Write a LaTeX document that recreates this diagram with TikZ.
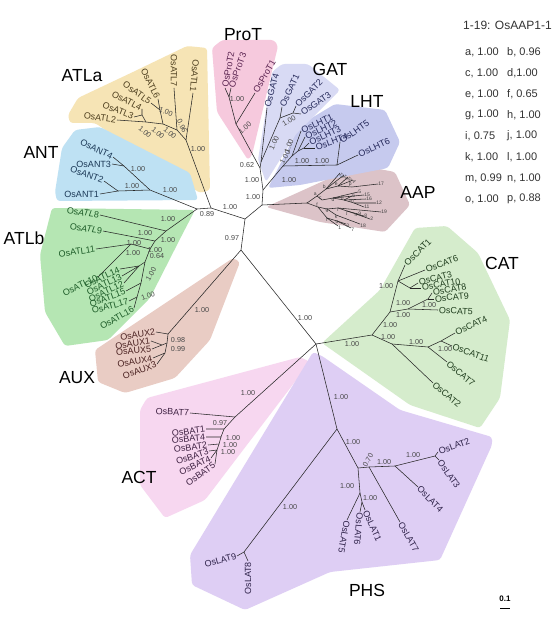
\documentclass[tikz,border=0pt]{standalone}
\usepackage{amsmath}
\usepackage{fontspec}
\setmainfont{Liberation Sans}
\usepackage{tikz}
\usetikzlibrary{positioning,calc}
\usetikzlibrary{backgrounds}
\tikzset{>=latex}
\usepackage{xcolor}

\definecolor{atlabg}{HTML}{F6E4B5}
\definecolor{antbg}{HTML}{BEE1F3}
\definecolor{atlbbg}{HTML}{B5E6B3}
\definecolor{auxbg}{HTML}{E9CCC4}
\definecolor{protbg}{HTML}{F6C9DD}
\definecolor{gatbg}{HTML}{D8DAF4}
\definecolor{lhtbg}{HTML}{C6CAEE}
\definecolor{aapbg}{HTML}{DCC3C8}
\definecolor{catbg}{HTML}{D5ECCC}
\definecolor{actbg}{HTML}{F7D7F0}
\definecolor{phsbg}{HTML}{DECEF4}
\definecolor{atlatx}{HTML}{4E3F1F}
\definecolor{anttx}{HTML}{1C3957}
\definecolor{atlbtx}{HTML}{1D5C28}
\definecolor{auxtx}{HTML}{4B2222}
\definecolor{prottx}{HTML}{5A2350}
\definecolor{gattx}{HTML}{282C5C}
\definecolor{lhttx}{HTML}{24285A}
\definecolor{cattx}{HTML}{213F1F}
\definecolor{acttx}{HTML}{3E2142}
\definecolor{phstx}{HTML}{2E2249}

\tikzset{
  br/.style={draw=black!85, line width=0.55pt},
  tip/.style={font=\fontsize{9}{9}\selectfont, inner sep=0.8pt},
  tipl/.style={tip, anchor=east},
  tipr/.style={tip, anchor=west},
  bsv/.style={font=\fontsize{7.2}{7.2}\selectfont, inner sep=0pt, text=black!72},
  clade/.style={font=\fontsize{17.5}{17.5}\selectfont, inner sep=0pt},
  aapt/.style={font=\fontsize{5}{5}\selectfont, inner sep=0.1pt, text=black!75},
  key/.style={font=\fontsize{11}{11}\selectfont, anchor=west, inner sep=0pt, text=black!80},
  zone/.style={rounded corners=3pt},
}

\begin{document}
\begin{tikzpicture}[x=1pt,y=-1pt]
\useasboundingbox (0,0) rectangle (553,620);
\fill[white] (0,0) rectangle (553,620);

% shaded clades
\fill[zone, atlabg] (68,115) -- (78,98) -- (133,72) -- (187,46) -- (207,48) -- (210,190) -- (200,193) -- (95,123) -- (70,123) -- cycle;
\fill[zone, antbg] (55,192) -- (62,148) -- (75,130) -- (100,127) -- (190,173) -- (198,200) -- (57,201) -- cycle;
\fill[zone, atlbbg] (52,208) -- (195,210) -- (182,235) -- (150,298) -- (108,340) -- (65,346) -- (45,312) -- (40,255) -- cycle;
\fill[zone, auxbg] (95,350) -- (233,258) -- (240,262) -- (210,340) -- (175,378) -- (125,393) -- (98,382) -- cycle;
\fill[zone, actbg] (147,398) -- (300,357) -- (310,362) -- (205,500) -- (165,518) -- (140,485) -- (140,410) -- cycle;
\fill[zone, phsbg] (313,352) -- (322,356) -- (400,410) -- (492,437) -- (492,445) -- (440,560) -- (330,572) -- (245,610) -- (192,585) -- (190,555) -- cycle;
\fill[zone, catbg] (322,343) -- (380,290) -- (415,228) -- (447,226) -- (478,253) -- (510,320) -- (500,398) -- (480,428) -- (410,405) -- cycle;
\fill[zone, aapbg] (266,207) -- (330,178) -- (368,167) -- (395,172) -- (410,205) -- (385,232) -- (320,222) -- cycle;
\fill[zone, lhtbg] (268,188) -- (300,125) -- (335,104) -- (385,110) -- (400,142) -- (388,168) -- (300,185) -- cycle;
\fill[zone, gatbg] (272,72) -- (282,64) -- (308,64) -- (340,90) -- (296,134) -- (266,182) -- (258,160) -- cycle;
\fill[zone, protbg] (212,48) -- (222,40) -- (274,40) -- (278,46) -- (252,155) -- (248,160) -- (217,112) -- cycle;

% backbone
\coordinate (n1) at (197,209);
\coordinate (n2) at (211,208);
\coordinate (j1) at (245,219);
\coordinate (j2) at (262,205);
\coordinate (j3) at (263,190);
\coordinate (j4) at (260,168);
\coordinate (j5) at (241,250);
\coordinate (m0) at (316,344);
\draw[br] (n1) -- (n2) -- (j1) -- (j2) -- (j3) -- (j4);
\draw[br] (j1) -- (j5) -- (m0);

% ATLa
\coordinate (a1) at (186,140);
\coordinate (a2) at (177,130);
\coordinate (a3) at (163,124);
\coordinate (a4) at (160,110);
\coordinate (a5) at (146,122);
\coordinate (a6) at (142,115);
\coordinate (atl1) at (193,93);
\coordinate (atl7) at (174,88);
\coordinate (atl6) at (158,99);
\coordinate (atl5) at (151,103);
\coordinate (atl4) at (142,109);
\coordinate (atl3) at (134,117);
\coordinate (atl2) at (117,120);
\draw[br] (n2) -- (a1) -- (atl1);
\draw[br] (a1) -- (a2) -- (atl7);
\draw[br] (a2) -- (a3) -- (a4) -- (atl6);
\draw[br] (a4) -- (atl5);
\draw[br] (a3) -- (a5) -- (atl2);
\draw[br] (a5) -- (a6) -- (atl4);
\draw[br] (a6) -- (atl3);
\node[tipl, text=atlatx, rotate=-95] (latl1) at (atl1) {OsATL1};
\node[tipl, text=atlatx, rotate=-90] (latl7) at (atl7) {OsATL7};
\node[tipl, text=atlatx, rotate=-64] (latl6) at (atl6) {OsATL6};
\node[tipl, text=atlatx, rotate=-36] (latl5) at (atl5) {OsATL5};
\node[tipl, text=atlatx, rotate=-28] (latl4) at (atl4) {OsATL4};
\node[tipl, text=atlatx, rotate=-22] (latl3) at (atl3) {OsATL3};
\node[tipl, text=atlatx, rotate=-8] (latl2) at (atl2) {OsATL2};

% ANT
\coordinate (b1) at (150,190);
\coordinate (b2) at (118,191);
\coordinate (b3) at (124,166);
\coordinate (ant1) at (100,194);
\coordinate (ant2) at (104,181);
\coordinate (ant3) at (112,164);
\coordinate (ant4) at (113,157);
\draw[br] (n1) -- (b1) -- (b2) -- (ant1);
\draw[br] (b2) -- (ant2);
\draw[br] (b1) -- (b3) -- (ant3);
\draw[br] (b3) -- (ant4);
\node[tipl, text=anttx] (lant1) at (ant1) {OsANT1};
\node[tipl, text=anttx, rotate=-20] (lant2) at (ant2) {OsANT2};
\node[tipl, text=anttx] (lant3) at (ant3) {OsANT3};
\node[tipl, text=anttx, rotate=-25] (lant4) at (ant4) {OsANT4};

% ATLb
\coordinate (c1) at (166,231);
\coordinate (c2) at (155,241);
\coordinate (c3) at (150,249);
\coordinate (c4) at (131,244);
\coordinate (c5) at (145,262);
\coordinate (c6) at (139,266);
\coordinate (c7) at (141,283);
\coordinate (c8) at (137,297);
\coordinate (atl8) at (100,215);
\coordinate (atl9) at (103,231);
\coordinate (atl11) at (96,249);
\coordinate (atl10) at (98,277);
\coordinate (atl14) at (120,269);
\coordinate (atl13) at (122,276);
\coordinate (atl12) at (124,283);
\coordinate (atl15) at (126,291);
\coordinate (atl17) at (129,301);
\coordinate (atl16) at (134,308);
\draw[br] (n1) -- (c1) -- (atl8);
\draw[br] (c1) -- (c2) -- (atl9);
\draw[br] (c2) -- (c3) -- (c4) -- (atl11);
\draw[br] (c4) -- (atl10);
\draw[br] (c3) -- (c5) -- (c6) -- (atl14);
\draw[br] (c6) -- (atl13);
\draw[br] (c6) -- (atl12);
\draw[br] (c5) -- (c7) -- (atl15);
\draw[br] (c7) -- (c8) -- (atl17);
\draw[br] (c8) -- (atl16);
\node[tipl, text=atlbtx, rotate=-8] (latl8) at (atl8) {Os\textit{ATL}8};
\node[tipl, text=atlbtx, rotate=-8] (latl9) at (atl9) {Os\textit{ATL}9};
\node[tipl, text=atlbtx, rotate=8] (latl11) at (atl11) {OsATL11};
\node[tipl, text=atlbtx, rotate=25] (latl10) at (atl10) {OsATL10};
\node[tipl, text=atlbtx, rotate=25] (latl14) at (atl14) {OsATL14};
\node[tipl, text=atlbtx, rotate=25] (latl13) at (atl13) {OsATL13};
\node[tipl, text=atlbtx, rotate=25] (latl12) at (atl12) {OsATL12};
\node[tipl, text=atlbtx, rotate=20] (latl15) at (atl15) {OsATL15};
\node[tipl, text=atlbtx, rotate=15] (latl17) at (atl17) {OsATL17};
\node[tipl, text=atlbtx, rotate=30] (latl16) at (atl16) {OsATL16};

% AUX
\coordinate (d1) at (168,334);
\coordinate (d2) at (167,343);
\coordinate (d3) at (162,345);
\coordinate (d4) at (165,353);
\coordinate (aux2) at (156,332);
\coordinate (aux1) at (151,341);
\coordinate (aux5) at (152,349);
\coordinate (aux4) at (153,358);
\coordinate (aux3) at (157,364);
\draw[br] (j5) -- (d1) -- (aux2);
\draw[br] (d1) -- (d2) -- (d3) -- (aux1);
\draw[br] (d3) -- (aux5);
\draw[br] (d2) -- (d4) -- (aux4);
\draw[br] (d4) -- (aux3);
\node[tipl, text=auxtx, rotate=8] (laux2) at (aux2) {OsAUX2};
\node[tipl, text=auxtx, rotate=8] (laux1) at (aux1) {OsAUX1};
\node[tipl, text=auxtx, rotate=5] (laux5) at (aux5) {OsAUX5};
\node[tipl, text=auxtx, rotate=10] (laux4) at (aux4) {OsAUX4};
\node[tipl, text=auxtx, rotate=20] (laux3) at (aux3) {OsAUX3};

% ACT
\coordinate (e1) at (235,417);
\coordinate (e2) at (224,429);
\coordinate (e3) at (221,437);
\coordinate (e4) at (219,444);
\coordinate (e5) at (217,450);
\coordinate (bat7) at (190,413);
\coordinate (bat1) at (206,429);
\coordinate (bat4) at (206,437);
\coordinate (bat2) at (208,445);
\coordinate (bat3) at (209,451);
\coordinate (bat4b) at (211,458);
\coordinate (bat5) at (215,464);
\draw[br] (m0) -- (e1) -- (bat7);
\draw[br] (e1) -- (e2) -- (bat1);
\draw[br] (e2) -- (e3) -- (bat4);
\draw[br] (e3) -- (e4) -- (bat2);
\draw[br] (e4) -- (e5) -- (bat3);
\draw[br] (e5) -- (bat4b);
\draw[br] (e5) -- (bat5);
\node[tipl, text=acttx, rotate=-3] (lbat7) at (bat7) {OsBAT7};
\node[tipl, text=acttx, rotate=8] (lbat1) at (bat1) {OsBAT1};
\node[tipl, text=acttx, rotate=5] (lbat4) at (bat4) {OsBAT4};
\node[tipl, text=acttx, rotate=8] (lbat2) at (bat2) {OsBAT2};
\node[tipl, text=acttx, rotate=18] (lbat3) at (bat3) {OsBAT3};
\node[tipl, text=acttx, rotate=25] (lbat4b) at (bat4b) {OsBAT4};
\node[tipl, text=acttx, rotate=35] (lbat5) at (bat5) {OsBAT5};

% PHS
\coordinate (p1) at (337,429);
\coordinate (p2) at (358,468);
\coordinate (p3) at (244,552);
\coordinate (q1) at (360,493);
\coordinate (q2) at (369,467);
\coordinate (q3) at (395,466);
\coordinate (q4) at (435,456);
\coordinate (q5) at (362,502);
\coordinate (lat9) at (237,556);
\coordinate (lat8) at (248,561);
\coordinate (lat7) at (400,522);
\coordinate (lat4) at (418,487);
\coordinate (lat2) at (438,452);
\coordinate (lat3) at (439,460);
\coordinate (lat5) at (347,520);
\coordinate (lat6) at (360,512);
\coordinate (lat1) at (365,510);
\draw[br] (m0) -- (p1) -- (p3) -- (lat9);
\draw[br] (p3) -- (lat8);
\draw[br] (p1) -- (p2) -- (q1) -- (lat5);
\draw[br] (q1) -- (q5) -- (lat6);
\draw[br] (q5) -- (lat1);
\draw[br] (p2) -- (q2) -- (lat7);
\draw[br] (q2) -- (q3) -- (lat4);
\draw[br] (q3) -- (q4) -- (lat2);
\draw[br] (q4) -- (lat3);
\node[tipl, text=phstx, rotate=15] (llat9) at (lat9) {OsLAT9};
\node[tipl, text=phstx, rotate=90] (llat8) at (lat8) {OsLAT8};
\node[tipr, text=phstx, rotate=20] (llat2) at (lat2) {OsLAT2};
\node[tipr, text=phstx, rotate=-55] (llat3) at (lat3) {OsLAT3};
\node[tipr, text=phstx, rotate=-45] (llat4) at (lat4) {OsLAT4};
\node[tipr, text=phstx, rotate=-60] (llat7) at (lat7) {OsLAT7};
\node[tipr, text=phstx, rotate=-65] (llat1) at (lat1) {OsLAT1};
\node[tipr, text=phstx, rotate=-95] (llat6) at (lat6) {OsLAT6};
\node[tipr, text=phstx, rotate=-100] (llat5) at (lat5) {OsLAT5};

% CAT
\coordinate (k1) at (372,335);
\coordinate (k2) at (390,312);
\coordinate (k3) at (392,344);
\coordinate (k4) at (428,347);
\coordinate (k5) at (441,341);
\coordinate (k6) at (398,281);
\coordinate (k7) at (408,309);
\coordinate (k8) at (428,299);
\coordinate (k9) at (410,288);
\coordinate (cat1) at (405,265);
\coordinate (cat6) at (425,270);
\coordinate (cat3) at (418,283);
\coordinate (cat10) at (421,288);
\coordinate (cat8) at (432,293);
\coordinate (cat9) at (434,299);
\coordinate (cat5) at (438,310);
\coordinate (cat4) at (455,333);
\coordinate (cat11) at (452,346);
\coordinate (cat7) at (447,362);
\coordinate (cat2) at (433,383);
\draw[br] (m0) -- (k1) -- (k2);
\draw[br] (k1) -- (k3) -- (cat2);
\draw[br] (k3) -- (k4) -- (k5) -- (cat4);
\draw[br] (k5) -- (cat11);
\draw[br] (k4) -- (cat7);
\draw[br] (k2) -- (k6) -- (cat1);
\draw[br] (k6) -- (cat6);
\draw[br] (k6) -- (k9) -- (cat3);
\draw[br] (k9) -- (cat10);
\draw[br] (k2) -- (k7) -- (cat5);
\draw[br] (k7) -- (k8) -- (cat8);
\draw[br] (k8) -- (cat9);
\node[tipr, text=cattx, rotate=45] (lcat1) at (cat1) {OsCAT1};
\node[tipr, text=cattx, rotate=20] (lcat6) at (cat6) {OsCAT6};
\node[tipr, text=cattx, rotate=15] (lcat3) at (cat3) {OsCAT3};
\node[tipr, text=cattx, rotate=10] (lcat10) at (cat10) {OsCAT10};
\node[tipr, text=cattx, rotate=10] (lcat8) at (cat8) {OsCAT8};
\node[tipr, text=cattx, rotate=5] (lcat9) at (cat9) {OsCAT9};
\node[tipr, text=cattx, rotate=-3] (lcat5) at (cat5) {OsCAT5};
\node[tipr, text=cattx, rotate=25] (lcat4) at (cat4) {OsCAT4};
\node[tipr, text=cattx, rotate=-20] (lcat11) at (cat11) {OsCAT11};
\node[tipr, text=cattx, rotate=-40] (lcat7) at (cat7) {OsCAT7};
\node[tipr, text=cattx, rotate=-40] (lcat2) at (cat2) {OsCAT2};

% LHT
\coordinate (l1) at (283,166);
\coordinate (l2) at (337,165);
\coordinate (l3) at (292,156);
\coordinate (l4) at (298,151);
\coordinate (l5) at (304,148);
\coordinate (lht1) at (301,131);
\coordinate (lht2) at (305,137);
\coordinate (lht3) at (309,143);
\coordinate (lht4) at (315,148);
\coordinate (lht5) at (340,142);
\coordinate (lht6) at (358,155);
\draw[br] (j3) -- (l1) -- (l2) -- (lht5);
\draw[br] (l2) -- (lht6);
\draw[br] (l1) -- (l3) -- (lht1);
\draw[br] (l3) -- (l4) -- (lht2);
\draw[br] (l4) -- (l5) -- (lht3);
\draw[br] (l5) -- (lht4);
\node[tipr, text=lhttx, rotate=25] (llht1) at (lht1) {OsLHT1};
\node[tipr, text=lhttx, rotate=25] (llht2) at (lht2) {OsLHT2};
\node[tipr, text=lhttx, rotate=25] (llht3) at (lht3) {OsLHT3};
\node[tipr, text=lhttx, rotate=20] (llht4) at (lht4) {OsLHT4};
\node[tipr, text=lhttx, rotate=35] (llht5) at (lht5) {OsLHT5};
\node[tipr, text=lhttx, rotate=25] (llht6) at (lht6) {OsLHT6};

% GAT
\coordinate (g1) at (261,162);
\coordinate (g2) at (280,118);
\coordinate (g3) at (293,113);
\coordinate (gat4) at (267,108);
\coordinate (gat1) at (282,107);
\coordinate (gat2) at (296,106);
\coordinate (gat3) at (301,114);
\draw[br] (j4) -- (g1) -- (gat4);
\draw[br] (g1) -- (g2) -- (gat1);
\draw[br] (g2) -- (g3) -- (gat2);
\draw[br] (g3) -- (gat3);
\node[tipr, text=gattx, rotate=75] (lgat4) at (gat4) {OsGAT4};
\node[tipr, text=gattx, rotate=65] (lgat1) at (gat1) {OsGAT1};
\node[tipr, text=gattx, rotate=45] (lgat2) at (gat2) {OsGAT2};
\node[tipr, text=gattx, rotate=35] (lgat3) at (gat3) {OsGAT3};

% ProT
\coordinate (r1) at (236,124);
\coordinate (r2) at (229,97);
\coordinate (prot1) at (255,93);
\coordinate (prot2) at (225,88);
\coordinate (prot3) at (231,88);
\draw[br] (j4) -- (r1) -- (prot1);
\draw[br] (r1) -- (r2) -- (prot2);
\draw[br] (r2) -- (prot3);
\node[tipr, text=prottx, rotate=80] (lprot2) at (prot2) {OsProT2};
\node[tipr, text=prottx, rotate=70] (lprot3) at (prot3) {OsProT3};
\node[tipr, text=prottx, rotate=60] (lprot1) at (prot1) {OsProT1};

% AAP
\coordinate (s0) at (307,203);
\coordinate (sa) at (317,196);
\coordinate (sb) at (326,189);
\coordinate (se) at (338,186);
\coordinate (sp) at (352,187);
\coordinate (sc) at (322,200);
\coordinate (sd) at (333,198);
\coordinate (sh) at (344,200);
\coordinate (sm) at (354,203);
\coordinate (sf) at (318,207);
\coordinate (sg) at (327,209);
\coordinate (si) at (338,208);
\coordinate (sj) at (347,211);
\coordinate (sn) at (356,214);
\coordinate (sk) at (336,215);
\coordinate (sl) at (327,218);
\coordinate (so) at (337,221);
\coordinate (t13) at (340,173);
\coordinate (t14) at (344,175);
\coordinate (t10) at (348,177);
\coordinate (t4) at (353,180);
\coordinate (t17) at (378,184);
\coordinate (t5) at (358,192);
\coordinate (t15) at (364,195);
\coordinate (t6) at (352,196);
\coordinate (t16) at (366,199);
\coordinate (t12) at (376,203);
\coordinate (t11) at (364,207);
\coordinate (t19) at (381,212);
\coordinate (t9) at (358,214);
\coordinate (t8) at (364,216);
\coordinate (t2) at (370,219);
\coordinate (t18) at (360,224);
\coordinate (t1) at (338,226);
\coordinate (t3) at (346,224);
\coordinate (t7) at (351,228);
\draw[br] (j2) -- (s0) -- (sa) -- (sb) -- (t13);
\draw[br] (sb) -- (t14);
\draw[br] (sb) -- (se) -- (t10);
\draw[br] (se) -- (t4);
\draw[br] (se) -- (sp) -- (t17);
\draw[br] (sa) -- (sc) -- (sd) -- (t5);
\draw[br] (sd) -- (t15);
\draw[br] (sd) -- (sh) -- (t6);
\draw[br] (sh) -- (t16);
\draw[br] (sh) -- (sm) -- (t12);
\draw[br] (sm) -- (t11);
\draw[br] (s0) -- (sf) -- (sg) -- (si) -- (t19);
\draw[br] (si) -- (sj) -- (t9);
\draw[br] (sj) -- (sn) -- (t8);
\draw[br] (sn) -- (t2);
\draw[br] (sg) -- (sk) -- (t18);
\draw[br] (sf) -- (sl) -- (t1);
\draw[br] (sl) -- (so) -- (t3);
\draw[br] (so) -- (t7);
\foreach \t/\r in {13/-55,14/-55,10/-55,4/-55}
  \node[aapt, anchor=west, rotate=\r] (nt\t) at (t\t) {\t};
\foreach \t in {17,5,15,6,16,12,11,19,9,8,2}
  \node[aapt, anchor=west] (nt\t) at (t\t) {\t};
\foreach \t in {18,1,3,7}
  \node[aapt, anchor=north west] (nt\t) at (t\t) {\t};
\foreach \s in {a,b,c,e,p,f,h,m}
  \node[aapt, anchor=south east] (ns\s) at (s\s) {\s};
\foreach \s in {d,g,i,j,k,l,n,o}
  \node[aapt, anchor=north] (ns\s) at (s\s) {\s};

% support values
\foreach \x/\y/\r/\v [count=\i] in {
  207/214/0/0.89, 230/207/0/1.00, 232/238/0/0.97, 305/318/0/1.00,
  247/165/0/0.62, 252/180/0/1.00, 253/197/0/1.00,
  198/149/0/1.00, 166/112/-20/1.00, 182/126/-65/0.96, 145/132/-40/1.00, 158/133/-40/1.00, 170/133/-40/1.00,
  132/186/0/1.00, 138/169/0/1.00, 170/190/0/1.00,
  168/219/0/1.00, 145/233/0/1.00, 168/240/0/1.00, 134/243/0/1.00, 133/253/0/1.00, 155/250/0/1.00, 157/256/0/0.64, 151/274/60/1.00, 148/296/20/1.00,
  202/310/0/1.00, 178/340/0/0.98, 178/349/0/0.99,
  248/393/0/1.00, 220/423/0/0.97, 233/438/0/1.00, 230/445/0/1.00, 228/452/0/1.00,
  341/397/0/1.00, 290/507/0/1.00, 353/442/0/1.00, 368/460/60/0.70, 384/462/0/1.00, 413/455/0/1.00, 347/486/0/1.00, 370/498/0/1.00,
  352/344/0/1.00, 388/337/0/1.00, 390/325/0/1.00, 386/286/0/1.00, 403/303/0/1.00, 429/305/0/1.00, 403/315/0/1.00, 416/342/0/1.00, 445/349/0/1.00,
  289/180/0/1.00, 302/161/0/1.00, 322/161/0/1.00, 289/146/70/1.00, 285/157/60/1.00,
  274/143/65/1.00, 289/121/30/1.00,
  245/128/40/1.00, 237/99/0/1.00}
  \node[bsv, rotate=\r] (v\i) at (\x,\y) {\v};

% clade names
\node[clade] (cprot) at (243,35) {ProT};
\node[clade] (cgat) at (330,69) {GAT};
\node[clade] (clht) at (367,101) {LHT};
\node[clade] (caap) at (418,192) {AAP};
\node[clade] (ccat) at (502,263) {CAT};
\node[clade] (catla) at (82,76) {ATLa};
\node[clade] (cant) at (41,152) {ANT};
\node[clade] (catlb) at (24,238) {ATLb};
\node[clade] (caux) at (77,378) {AUX};
\node[clade] (cact) at (139,477) {ACT};
\node[clade] (cphs) at (367,590) {PHS};

% AAP key
\node[key, font=\fontsize{12}{12}\selectfont] (key0) at (463,25) {1-19: OsAAP1-1};
\foreach \l/\r [count=\i] in {{a, 1.00}/{b, 0.96},{c, 1.00}/{d,1.00},{e, 1.00}/{f, 0.65},{g, 1.00}/{h, 1.00},{i, 0.75}/{j, 1.00},{k, 1.00}/{l, 1.00},{m, 0.99}/{n, 1.00},{o, 1.00}/{p, 0.88}}{
  \node[key] (keyl\i) at (465,{31+21*\i}) {\l};
  \node[key] (keyr\i) at (507,{31+21*\i}) {\r};
}

% scale bar
\coordinate (bar1) at (500,608);
\coordinate (bar2) at (510,608);
\draw[line width=1pt] (bar1) -- (bar2);
\node[font=\fontsize{8}{8}\selectfont\bfseries, inner sep=0pt] (barl) at (505,599) {0.1};
\end{tikzpicture}
\end{document}
